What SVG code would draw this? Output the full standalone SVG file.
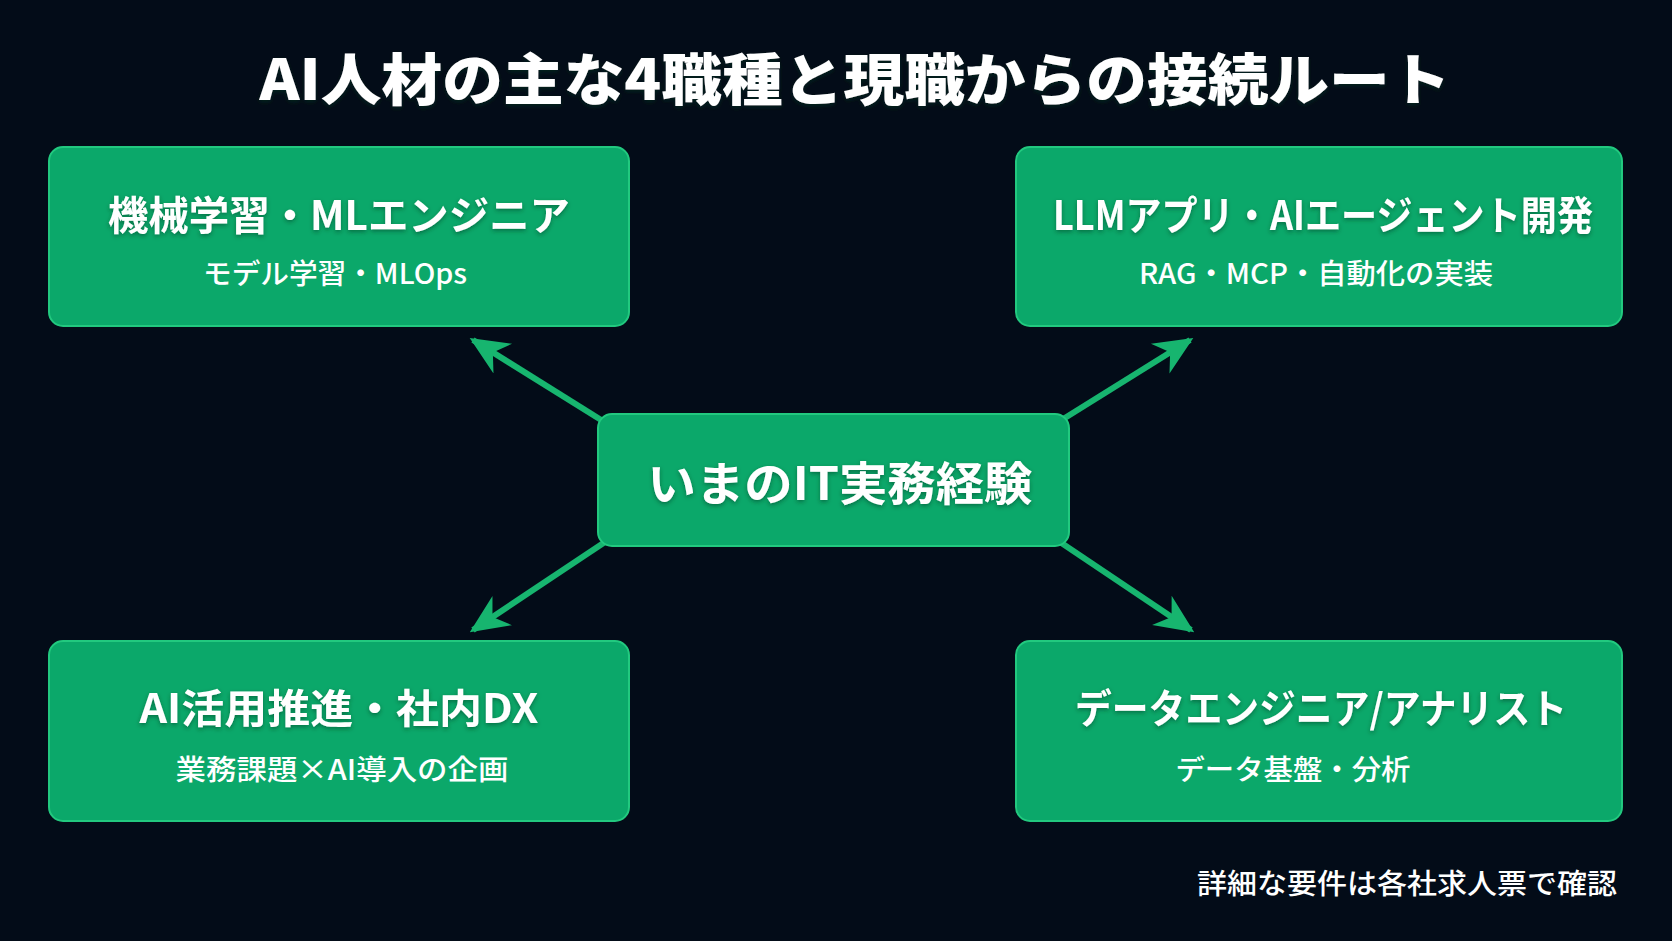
<svg xmlns="http://www.w3.org/2000/svg" width="1672" height="941" viewBox="0 0 1672 941">
<defs>
<style>
.box{fill:#0ba86a;stroke:#22c97f;stroke-width:2}
.t{font-family:"Noto Sans CJK JP","Noto Sans",sans-serif;fill:#ffffff;text-anchor:middle;dominant-baseline:central}
.h{font-weight:700;font-size:40px}
.s{font-weight:500;font-size:28px}
.con{stroke:#17b56f;stroke-width:6;fill:none}
</style>
<marker id="ah" viewBox="0 0 10 10" refX="9" refY="5" markerWidth="6.5" markerHeight="6.5" markerUnits="strokeWidth" orient="auto">
<path d="M0,0.5 L10,5 L0,9.5 L3,5 Z" fill="#17b56f"/>
</marker>
<filter id="sh" x="-5%" y="-20%" width="110%" height="140%">
<feDropShadow dx="0" dy="2" stdDeviation="2" flood-color="#04341f" flood-opacity="0.5"/>
</filter>
</defs>
<rect width="1672" height="941" fill="#030c18"/>
<text class="t" x="855" y="75" font-size="56" font-weight="900" textLength="1191" lengthAdjust="spacingAndGlyphs" filter="url(#sh)">AI人材の主な4職種と現職からの接続ルート</text>
<g id="connectors">
<line class="con" x1="606" y1="423" x2="473" y2="340" marker-end="url(#ah)"/>
<line class="con" x1="1060" y1="421" x2="1190" y2="340" marker-end="url(#ah)"/>
<line class="con" x1="608" y1="540" x2="473" y2="630" marker-end="url(#ah)"/>
<line class="con" x1="1057" y1="540" x2="1191" y2="630" marker-end="url(#ah)"/>
</g>
<g id="center">
<rect class="box" x="598" y="414" width="471" height="132" rx="14"/>
<text class="t" x="840" y="480" font-size="46" font-weight="700" textLength="385" lengthAdjust="spacingAndGlyphs" filter="url(#sh)">いまのIT実務経験</text>
</g>
<g id="ml">
<rect class="box" x="49" y="147" width="580" height="179" rx="14"/>
<text class="t h" x="339" y="213" textLength="462" lengthAdjust="spacingAndGlyphs" filter="url(#sh)">機械学習・MLエンジニア</text>
<text class="t s" x="335" y="272" textLength="264" lengthAdjust="spacingAndGlyphs">モデル学習・MLOps</text>
</g>
<g id="llm">
<rect class="box" x="1016" y="147" width="606" height="179" rx="14"/>
<text class="t h" x="1323" y="213" textLength="540" lengthAdjust="spacingAndGlyphs" filter="url(#sh)">LLMアプリ・AIエージェント開発</text>
<text class="t s" x="1316" y="272" textLength="354" lengthAdjust="spacingAndGlyphs">RAG・MCP・自動化の実装</text>
</g>
<g id="dx">
<rect class="box" x="49" y="641" width="580" height="180" rx="14"/>
<text class="t h" x="339" y="706" textLength="399" lengthAdjust="spacingAndGlyphs" filter="url(#sh)">AI活用推進・社内DX</text>
<text class="t s" x="342" y="768" textLength="333" lengthAdjust="spacingAndGlyphs">業務課題×AI導入の企画</text>
</g>
<g id="data">
<rect class="box" x="1016" y="641" width="606" height="180" rx="14"/>
<text class="t h" x="1321" y="706" textLength="492" lengthAdjust="spacingAndGlyphs" filter="url(#sh)">データエンジニア/アナリスト</text>
<text class="t s" x="1293" y="768" textLength="235" lengthAdjust="spacingAndGlyphs">データ基盤・分析</text>
</g>
<text x="1617" y="882" font-family="Noto Sans CJK JP, sans-serif" font-size="28" font-weight="500" fill="#ffffff" text-anchor="end" dominant-baseline="central" textLength="420" lengthAdjust="spacingAndGlyphs">詳細な要件は各社求人票で確認</text>
</svg>
